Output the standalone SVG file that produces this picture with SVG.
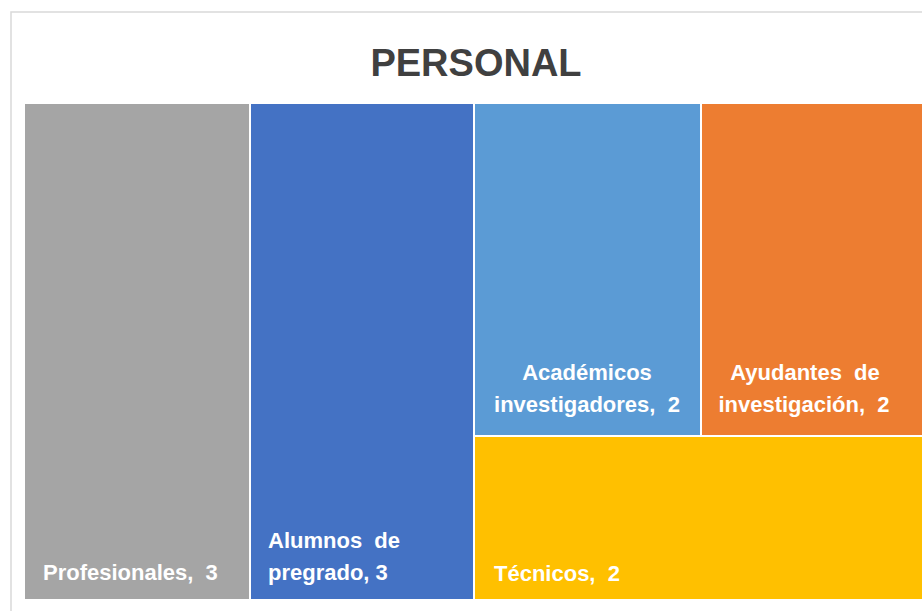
<svg xmlns="http://www.w3.org/2000/svg" width="922" height="611" viewBox="0 0 922 611">
<style>
.cell{stroke:#ffffff;stroke-width:2}
.lbl{font-family:"Liberation Sans",Arial,sans-serif;font-weight:bold;font-size:22px;fill:#ffffff;white-space:pre}
.title{font-family:"Liberation Sans",Arial,sans-serif;font-weight:bold;font-size:38px;fill:#404040}
</style>
<rect x="0" y="0" width="922" height="611" fill="#ffffff"/>
<rect x="11" y="12" width="930" height="620" fill="#ffffff" stroke="#d9d9d9" stroke-width="1.5"/>
<text class="title" x="476" y="76" text-anchor="middle">PERSONAL</text>
<g id="profesionales">
<rect class="cell" x="24" y="103" width="226" height="497" fill="#a5a5a5"/>
<text class="lbl" x="43" y="580" xml:space="preserve">Profesionales,  3</text>
</g>
<g id="alumnos">
<rect class="cell" x="250" y="103" width="224" height="497" fill="#4472c4"/>
<text class="lbl" x="268" y="548" xml:space="preserve">Alumnos  de</text>
<text class="lbl" x="268" y="580">pregrado, 3</text>
</g>
<g id="academicos">
<rect class="cell" x="474" y="103" width="227" height="333" fill="#5b9bd5"/>
<text class="lbl" x="587" y="380" text-anchor="middle">Académicos</text>
<text class="lbl" x="587" y="412" text-anchor="middle" xml:space="preserve">investigadores,  2</text>
</g>
<g id="ayudantes">
<rect class="cell" x="701" y="103" width="240" height="333" fill="#ed7d31"/>
<text class="lbl" x="805" y="380" text-anchor="middle" xml:space="preserve">Ayudantes  de</text>
<text class="lbl" x="804" y="412" text-anchor="middle" xml:space="preserve">investigación,  2</text>
</g>
<g id="tecnicos">
<rect class="cell" x="474" y="436" width="467" height="164" fill="#ffc000"/>
<text class="lbl" x="494" y="581" xml:space="preserve">Técnicos,  2</text>
</g>
<g id="connectors"/>
</svg>
